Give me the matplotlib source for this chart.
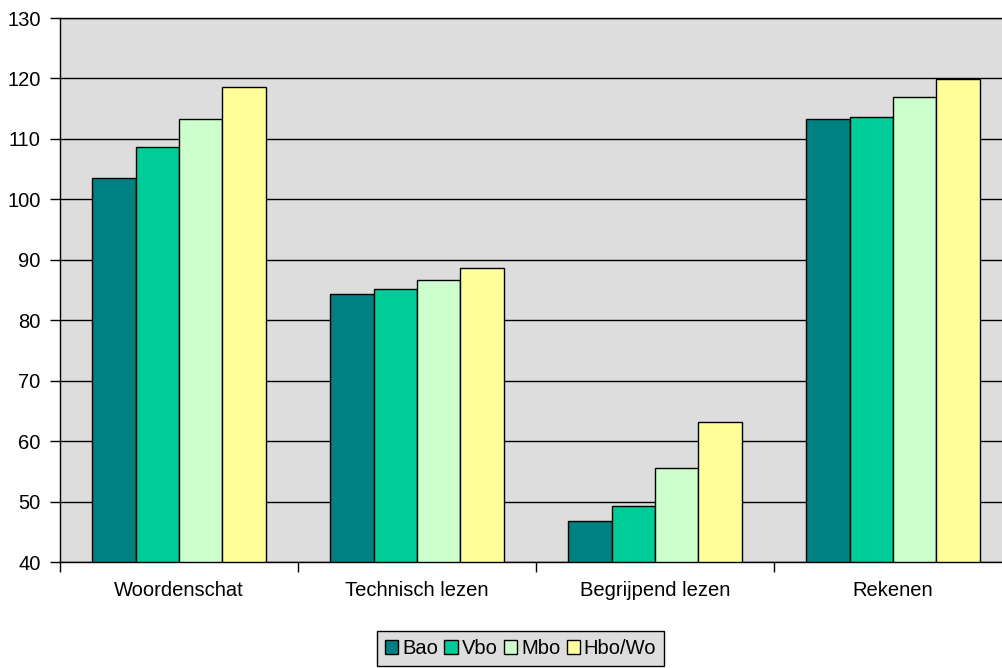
import matplotlib
matplotlib.use("Agg")
import matplotlib.pyplot as plt
import numpy as np

categories = ["Woordenschat", "Technisch lezen", "Begrijpend lezen", "Rekenen"]
series_names = ["Bao", "Vbo", "Mbo", "Hbo/Wo"]
bao = [103.6, 84.4, 46.8, 113.3]
vbo = [108.7, 85.1, 49.3, 113.6]
mbo = [113.3, 86.6, 55.5, 116.9]
hbo = [118.6, 88.7, 63.2, 119.9]
colors = ["#008080", "#00CC99", "#CCFFCC", "#FFFF99"]
yticks = list(range(40, 131, 10))

plt.rcParams['font.family'] = ['Liberation Sans', 'DejaVu Sans']

fig = plt.figure(figsize=(10.02, 6.68), dpi=100)
ax = fig.add_axes([60/1002, (668-562)/668, 952/1002, 544/668])
ax.set_facecolor("#DDDDDD")

data = [bao, vbo, mbo, hbo]
w = 0.182
x = np.arange(len(categories)) + 0.5
handles = []
for i, (vals, c, name) in enumerate(zip(data, colors, series_names)):
    h = ax.bar(x + (i - 1.5) * w, np.array(vals) - 40, bottom=40, width=w,
               color=c, edgecolor="black", linewidth=1.0, label=name, zorder=3)
    handles.append(h)

ax.set_xlim(0, 4)
ax.set_ylim(40, 130)
ax.set_yticks(yticks)
ax.yaxis.grid(True, color="black", linewidth=1.0, zorder=1)
ax.set_axisbelow(True)
ax.set_xticks(x)
ax.set_xticklabels(categories)
ax.set_xticks(np.arange(0, 5), minor=True)
ax.tick_params(axis='x', which='major', length=0, pad=14, labelsize=14.5)
ax.tick_params(axis='x', which='minor', length=7, width=1, direction='out')
ax.tick_params(axis='y', length=7, width=1, direction='out', pad=7, labelsize=14.5)
for s in ["left", "bottom", "top"]:
    ax.spines[s].set_color("black")
    ax.spines[s].set_linewidth(1.0)
ax.spines["right"].set_visible(False)

leg = fig.legend(handles=handles, labels=series_names, loc="upper left",
                 bbox_to_anchor=(377/1002, 1 - 631/668), ncol=4,
                 frameon=True, fancybox=False, fontsize=14.5,
                 handlelength=0.65, handleheight=0.65, handletextpad=0.2,
                 columnspacing=0.32, borderpad=0.4, borderaxespad=0)
leg.get_frame().set_facecolor("#DDDDDD")
leg.get_frame().set_edgecolor("black")
leg.get_frame().set_linewidth(1.0)
leg.get_frame().set_alpha(1)

fig.savefig("out.png", dpi=100)
